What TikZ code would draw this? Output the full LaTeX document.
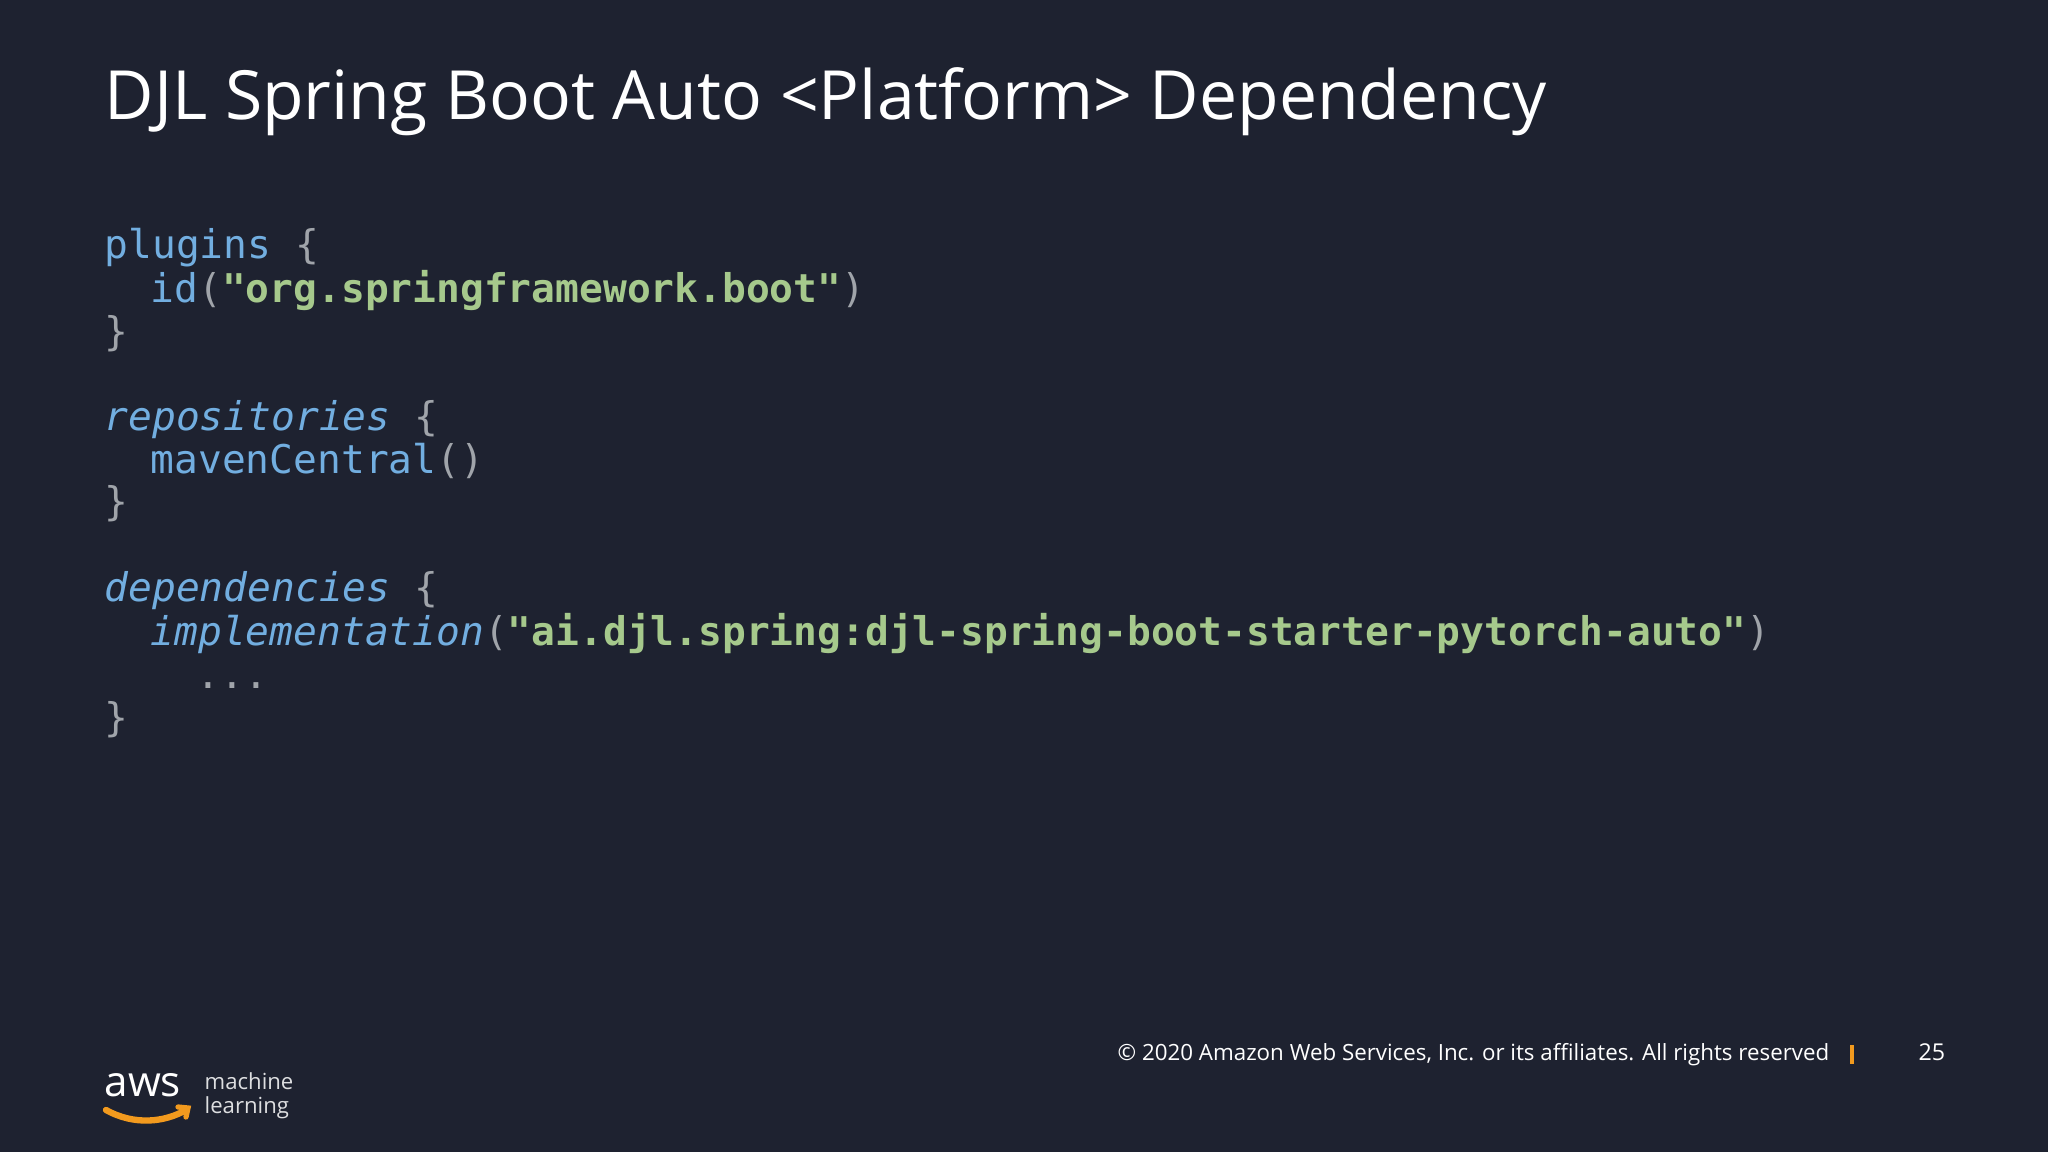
\documentclass[tikz,border=0pt]{standalone}
\usepackage{fontspec}
\setmainfont{Open Sans}
\newfontfamily\codefont{DejaVu Sans Mono}
\definecolor{bg}{HTML}{1E2230}
\definecolor{kw}{HTML}{72AEE0}
\definecolor{str}{HTML}{A6C98C}
\definecolor{pun}{HTML}{A0A4AA}
\definecolor{awsorange}{HTML}{F29A1E}
\begin{document}
\begin{tikzpicture}[x=0.01cm,y=-0.01cm,
  code/.style={anchor=base west,inner sep=0,font=\codefont\fontsize{11.25pt}{13pt}\selectfont},
  txt/.style={anchor=base west,inner sep=0,text=white}]
\fill[bg] (0,0) rectangle (2048,1152);
\useasboundingbox (0,0) rectangle (2048,1152);
\node[txt,font=\fontsize{19.3pt}{24pt}\selectfont] (title) at (104,120) {DJL Spring Boot Auto <Platform> Dependency};
\node[code] (l1) at (104,259) {\textcolor{kw}{plugins} \textcolor{pun}{\{}};
\node[code] (l2) at (150,303) {\textcolor{kw}{id}\textcolor{pun}{(}\textcolor{str}{\bfseries "org.springframework.boot"}\textcolor{pun}{)}};
\node[code] (l3) at (104,346) {\textcolor{pun}{\}}};
\node[code] (l4) at (104,431) {\textcolor{kw}{\itshape repositories} \textcolor{pun}{\{}};
\node[code] (l5) at (150,474) {\textcolor{kw}{mavenCentral}\textcolor{pun}{()}};
\node[code] (l6) at (104,516) {\textcolor{pun}{\}}};
\node[code] (l7) at (104,602) {\textcolor{kw}{\itshape dependencies} \textcolor{pun}{\{}};
\node[code] (l8) at (150,646) {\textcolor{kw}{\itshape implementation}\textcolor{pun}{(}\textcolor{str}{\bfseries "ai.djl.spring:djl-spring-boot-starter-pytorch-auto"}\textcolor{pun}{)}};
\node[code] (l9) at (196,688) {\textcolor{pun}{...}};
\node[code] (l10) at (104,731) {\textcolor{pun}{\}}};
\node[txt,font=\fontsize{6.35pt}{8pt}\selectfont] (copy) at (1117,1060) {© 2020 Amazon Web Services, Inc. or its affiliates. All rights reserved};
\fill[awsorange] (1850,1045) rectangle (1854,1064);
\node[txt,font=\fontsize{6.6pt}{8pt}\selectfont] (page) at (1918,1060) {25};
\node[txt,font=\fontsize{12pt}{14pt}\selectfont] (aws) at (104,1096) {aws};
\draw[awsorange,line width=1.8pt,line cap=round] (106,1110) .. controls (135,1126) and (165,1122) .. (186,1110);
\draw[awsorange,line width=1.5pt,line cap=round] (178,1107) -- (188,1108) -- (186,1117);
\node[txt,font=\fontsize{6.3pt}{8pt}\selectfont,text=white!85!bg] (m) at (204,1089) {machine};
\node[txt,font=\fontsize{6.3pt}{8pt}\selectfont,text=white!85!bg] (lr) at (204,1113) {learning};
\end{tikzpicture}
\end{document}
